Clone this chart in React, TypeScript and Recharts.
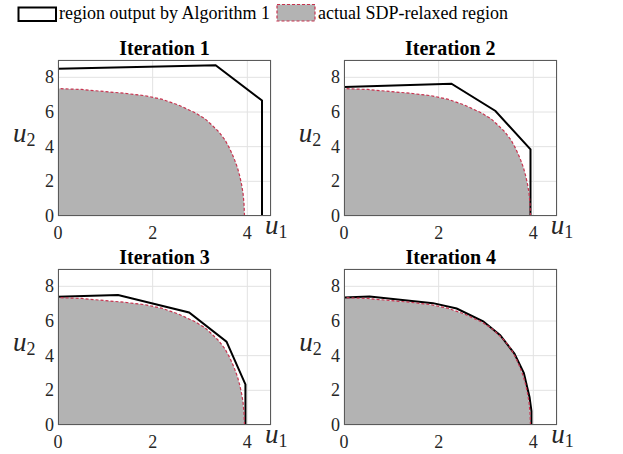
import {
  ComposedChart,
  XAxis,
  YAxis,
  CartesianGrid,
  Area,
  Scatter,
} from "recharts";

// actual SDP-relaxed region (upper boundary)
const REGION_U1 = [0, 0.5, 0.9, 1.4, 1.84, 2.19, 2.54, 2.9, 3.1, 3.25, 3.4, 3.53, 3.63, 3.72, 3.79, 3.84, 3.88, 3.91, 3.93, 3.94];
const REGION_U2 = [7.35, 7.3, 7.2, 7.08, 6.94, 6.74, 6.41, 5.95, 5.62, 5.25, 4.85, 4.38, 3.88, 3.32, 2.8, 2.3, 1.8, 1.3, 0.7, 0];

// region output by Algorithm 1, one polygon per iteration
const IT1_U1 = [0, 0, 3.33, 4.31, 4.31, 0];
const IT1_U2 = [0, 8.5, 8.7, 6.66, 0, 0];
const IT2_U1 = [0, 0, 2.27, 3.2, 3.94, 3.94, 0];
const IT2_U2 = [0, 7.44, 7.63, 6.06, 3.84, 0, 0];
const IT3_U1 = [0, 0, 1.27, 2.77, 3.56, 3.96, 3.96, 0];
const IT3_U2 = [0, 7.4, 7.5, 6.49, 4.81, 2.34, 0, 0];
const IT4_U1 = [0, 0, 0.54, 1.88, 2.38, 2.94, 3.3, 3.6, 3.8, 3.92, 3.96, 3.96, 0];
const IT4_U2 = [0, 7.36, 7.42, 7.03, 6.72, 5.98, 5.18, 4.12, 3.0, 1.6, 0.8, 0, 0];

const U1_TICKS = [0, 2, 4];
const U2_TICKS = [0, 2, 4, 6, 8];
const TITLES = ["Iteration 1", "Iteration 2", "Iteration 3", "Iteration 4"];
const LEGEND = ["region output by Algorithm 1", "actual SDP-relaxed region"];

const zip = (xs: number[], ys: number[]) => xs.map((u1, i) => ({ u1, u2: ys[i] }));

const regionData = zip(REGION_U1, REGION_U2);
const regionOutline = [{ u1: 0, u2: 0 }, ...regionData, { u1: 0, u2: 0 }];
const outlines = [
  zip(IT1_U1, IT1_U2),
  zip(IT2_U1, IT2_U2),
  zip(IT3_U1, IT3_U2),
  zip(IT4_U1, IT4_U2),
];

const SERIF = "'Liberation Serif', 'Times New Roman', serif";
const RED = "#c8334f";
const GRAY = "#b3b3b3";
const PW = 213;
const PH = 156;

const panels = [
  { left: 58, top: 59.5 },
  { left: 343.8, top: 59.5 },
  { left: 58, top: 269.3 },
  { left: 344.3, top: 269.3 },
];

const noDot = () => <g />;

const XTick = (props: any) => (
  <text x={props.x} y={props.y + 23} textAnchor="middle" fontFamily={SERIF} fontSize={18} fill="#262626">
    {props.payload.value}
  </text>
);

const YTick = (props: any) => (
  <text x={props.x - 4} y={props.y + 6} textAnchor="end" fontFamily={SERIF} fontSize={18} fill="#262626">
    {props.payload.value}
  </text>
);

function Panel({ left, top, outline }: { left: number; top: number; outline: { u1: number; u2: number }[] }) {
  return (
    <div style={{ position: "absolute", left: left - 50, top: top - 30, width: PW + 80, height: PH + 60 }}>
      <ComposedChart
        width={PW + 80}
        height={PH + 60}
        data={regionData}
        margin={{ top: 30, right: 30, bottom: 0, left: 0 }}
      >
        <CartesianGrid stroke="#e2e2e2" />
        <XAxis
          dataKey="u1"
          type="number"
          domain={[0, 4.5]}
          ticks={U1_TICKS}
          allowDataOverflow
          height={30}
          tickLine={false}
          axisLine={false}
          tickSize={0}
          tickMargin={0}
          tick={XTick}
        />
        <YAxis
          dataKey="u2"
          type="number"
          domain={[0, 9]}
          ticks={U2_TICKS}
          allowDataOverflow
          width={50}
          tickLine={false}
          axisLine={false}
          tickSize={0}
          tickMargin={0}
          tick={YTick}
        />
        <Area
          dataKey="u2"
          type="linear"
          fill={GRAY}
          fillOpacity={1}
          stroke="none"
          isAnimationActive={false}
        />
        <Scatter
          data={outline}
          fill="none"
          line={{ stroke: "#000", strokeWidth: 2 }}
          lineType="joint"
          shape={noDot}
          isAnimationActive={false}
        />
        <Scatter
          data={regionOutline}
          fill="none"
          line={{ stroke: RED, strokeWidth: 1.2, strokeDasharray: "3 2" }}
          lineType="joint"
          shape={noDot}
          isAnimationActive={false}
        />
      </ComposedChart>
      <div
        style={{
          position: "absolute",
          left: 50,
          top: 30,
          width: PW,
          height: PH,
          boxSizing: "border-box",
          border: "1px solid #5a5a5a",
          pointerEvents: "none",
        }}
      />
    </div>
  );
}

export default function App() {
  return (
    <div style={{ position: "absolute", left: 0, top: 0, width: 623, height: 454, background: "#fff", overflow: "hidden" }}>
      {panels.map((p, i) => (
        <Panel key={i} left={p.left} top={p.top} outline={outlines[i]} />
      ))}
      <svg width={623} height={454} style={{ position: "absolute", left: 0, top: 0, pointerEvents: "none" }}>
        <rect x={18.5} y={7.5} width={37.5} height={13.5} fill="#fff" stroke="#000" strokeWidth={2} />
        <text x={59} y={19} fontFamily={SERIF} fontSize={18} fill="#000">{LEGEND[0]}</text>
        <rect x={277} y={4.5} width={38} height={16.5} fill={GRAY} stroke={RED} strokeWidth={1.2} strokeDasharray="3 2" />
        <text x={318} y={19} fontFamily={SERIF} fontSize={18} fill="#000">{LEGEND[1]}</text>
        {panels.map((p, i) => (
          <g key={i}>
            <text
              x={p.left + PW / 2}
              y={p.top - 5}
              textAnchor="middle"
              fontFamily={SERIF}
              fontWeight="bold"
              fontSize={20}
              fill="#000"
            >
              {TITLES[i]}
            </text>
            <text x={p.left - 45} y={p.top + 82} fontFamily={SERIF} fontStyle="italic" fontSize={27} fill="#262626">
              u<tspan fontStyle="normal" fontSize={18} dy={4}>2</tspan>
            </text>
            <text x={p.left + PW - 6} y={p.top + PH + 18} fontFamily={SERIF} fontStyle="italic" fontSize={27} fill="#262626">
              u<tspan fontStyle="normal" fontSize={18} dy={4}>1</tspan>
            </text>
          </g>
        ))}
      </svg>
    </div>
  );
}
